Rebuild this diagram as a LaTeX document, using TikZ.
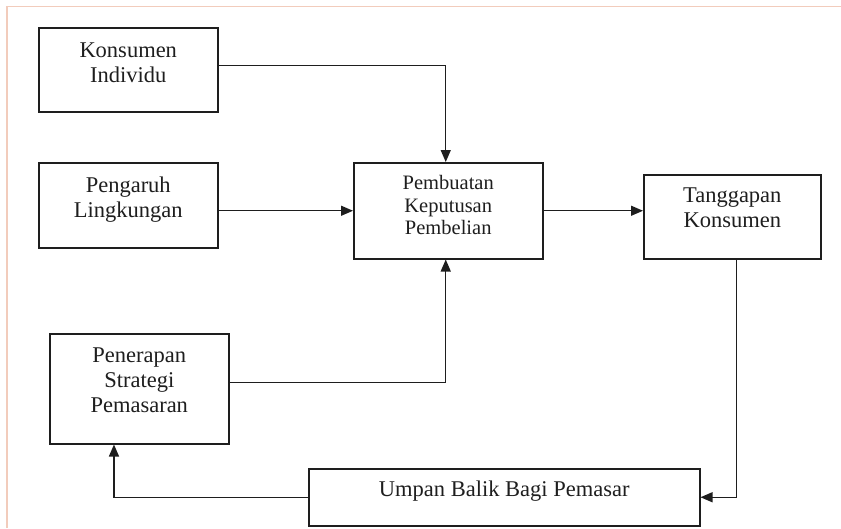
\documentclass[tikz,border=0pt]{standalone}
\usepackage{fontspec}
\setmainfont{Liberation Serif}
\usepackage{tikz}
\usetikzlibrary{arrows.meta,calc,positioning}
\definecolor{framecol}{RGB}{242,204,188}
\definecolor{inkcol}{RGB}{30,30,30}

\begin{document}
\begin{tikzpicture}[x=1pt, y=-1pt,
  box/.style 2 args={draw=inkcol, line width=1.5pt, text=inkcol, align=center,
    inner sep=0pt, minimum width=179pt, text height=#1, text depth=#2,
    anchor=north west, font=\fontsize{22.5}{25}\selectfont},
  arr/.style={-{Triangle[length=12pt,width=10pt]}, draw=inkcol, line width=1.3pt}]
  \useasboundingbox (0,0) rectangle (841,528);
  % page frame
  \draw[framecol, line width=1.5pt] (7,528) -- (7,6.5) -- (841,6.5);
  % boxes
  \node[box={55pt}{29pt}] (ki) at (38,27) {Konsumen\\Individu};
  \node[box={55pt}{30pt}] (pl) at (38,162) {Pengaruh\\Lingkungan};
  \node[box={72pt}{24pt}, minimum width=189pt, font=\fontsize{20.5}{22.5}\selectfont] (pk) at (353,162) {Pembuatan\\Keputusan\\Pembelian};
  \node[box={53pt}{31pt}, minimum width=177pt] (tk) at (643,174) {Tanggapan\\Konsumen};
  \node[box={79pt}{31pt}] (ps) at (49,333) {Penerapan\\Strategi\\Pemasaran};
  \node[box={28pt}{29pt}, minimum width=391pt] (ub) at (308,468) {Umpan Balik Bagi Pemasar};
  \coordinate (psin) at ($(ps.south west)!0.36!(ps.south east)$);
  % connectors
  \draw[arr] ([yshift=4pt]ki.east) -| ([xshift=-2.5pt]pk.north);
  \draw[arr] (pl.east |- pk.west) -- (pk.west);
  \draw[arr] (pk.east) -- (tk.west |- pk.east);
  \draw[arr] ([yshift=6pt]ps.east) -| ([xshift=-2.5pt]pk.south);
  \draw[arr] ([xshift=4.5pt]tk.south) |- (ub.east);
  \draw[arr] (ub.west) -| (psin);
\end{tikzpicture}
\end{document}
